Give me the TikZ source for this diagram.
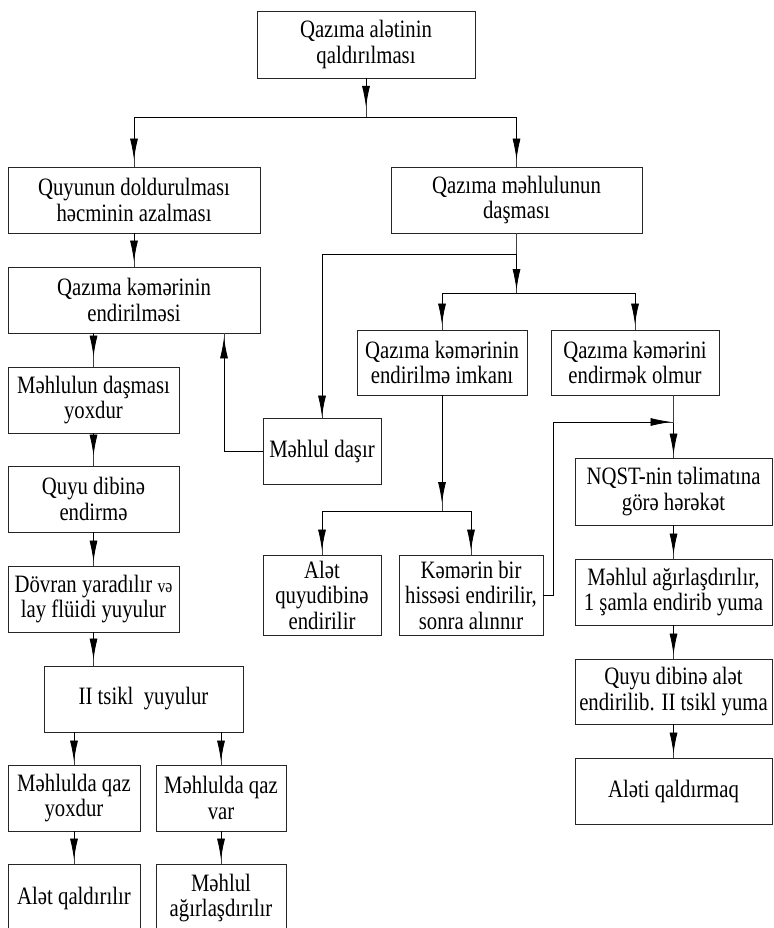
\documentclass[tikz,border=0pt]{standalone}
\usepackage{fontspec}
\setmainfont{Liberation Serif}[FakeStretch=0.83]
\usetikzlibrary{arrows.meta}
\begin{document}
\begin{tikzpicture}[x=1pt,y=-1pt,
  box/.style={draw=black!85, line width=0.9pt, align=center, inner sep=0pt,
    font=\fontsize{25}{25.5}\selectfont, minimum height=66pt},
  link/.style={draw=black!75, line width=0.8pt},
  arr/.style={postaction={draw=black, -{Latex[length=21pt,width=8pt]}, shorten >=#1}},
]
\useasboundingbox (0,0) rectangle (773,928);
\fill[white] (0,0) rectangle (773,928);

% top of the tree
\node[box, minimum width=218pt, minimum height=67pt] (top) at (366,44.5) {Qazıma alətinin\\qaldırılması};
\node[box, minimum width=252pt] (L1) at (134,200) {Quyunun doldurulması\\həcminin azalması};
\node[box, minimum width=251pt] (R1) at (516.5,200) {Qazıma məhlulunun\\daşması};

% left column
\node[box, minimum width=252pt] (L2) at (134,300) {Qazıma kəmərinin\\endirilməsi};
\node[box, minimum width=171pt] (L3) at (93.5,400) {Məhlulun daşması\\yoxdur};
\node[box, minimum width=171pt] (L4) at (93.5,499) {Quyu dibinə\\endirmə};
\node[box, minimum width=171pt] (L5) at (93.5,599) {Dövran yaradılır {\fontsize{19}{20}\selectfont və}\\lay flüidi yuyulur};
\node[box, minimum width=199pt] (L6) at (143.5,699) {II tsikl\ \ yuyulur};
\node[box, minimum width=132pt] (L7a) at (74,798) {Məhlulda qaz\\yoxdur};
\node[box, minimum width=130pt] (L7b) at (221,798) {Məhlulda qaz\\var};
\node[box, minimum width=132pt, minimum height=68pt] (L8a) at (74,898) {Alət qaldırılır};
\node[box, minimum width=130pt, minimum height=68pt] (L8b) at (221,898) {Məhlul\\ağırlaşdırılır};

% middle
\node[box, minimum width=170pt, minimum height=65pt] (imkani) at (442,362.5) {Qazıma kəmərinin\\endirilmə imkanı};
\node[box, minimum width=168pt, minimum height=65pt] (olmur) at (635,362.5) {Qazıma kəmərini\\endirmək olmur};
\node[box, minimum width=118pt] (dasir) at (322,451) {Məhlul daşır};
\node[box, minimum width=118pt, minimum height=80pt] (alet) at (322,595) {Alət\\quyudibinə\\endirilir};
\node[box, minimum width=144pt, minimum height=80pt] (kemer) at (471,595) {Kəmərin bir\\hissəsi endirilir,\\sonra alınnır};

% right column
\node[box, minimum width=197pt, minimum height=67pt] (N1) at (673.5,491.5) {NQST-nin təlimatına\\görə hərəkət};
\node[box, minimum width=197pt] (N2) at (673.5,592) {Məhlul ağırlaşdırılır,\\1 şamla endirib yuma};
\node[box, minimum width=197pt, minimum height=65pt] (N3) at (673.5,691.5) {Quyu dibinə alət\\endirilib. II tsikl yuma};
\node[box, minimum width=197pt] (N4) at (673.5,791) {Aləti qaldırmaq};

% junctions
\coordinate (j1) at (366,117);
\coordinate (j2) at (516.5,254);
\coordinate (j3) at (516.5,293);
\coordinate (j5) at (442,511);
\coordinate (j6) at (673.5,422);

% connectors
\draw[link, arr=10pt] (top.south) -- (j1);
\draw[link, arr=7pt] (j1) -| (L1.north);
\draw[link, arr=7pt] (j1) -| (R1.north);

\draw[link, arr=5pt] (L1.south) -- (L2.north);
\draw[link, arr=10pt] (L3.north |- L2.south) -- (L3.north);
\draw[link, arr=10pt] (L3.south) -- (L4.north);
\draw[link, arr=4pt] (L4.south) -- (L5.north);
\draw[link, arr=6pt] (L5.south) -- (L5.south |- L6.north);
\draw[link, arr=3pt] (L7a.north |- L6.south) -- (L7a.north);
\draw[link, arr=3pt] (L7b.north |- L6.south) -- (L7b.north);
\draw[link, arr=4pt] (L7a.south) -- (L8a.north);
\draw[link, arr=4pt] (L7b.south) -- (L8b.north);

\draw[link] (R1.south) -- (j2);
\draw[link, arr=1pt] (j2) -| (dasir.north);
\draw[link, arr=3pt] (j2) -- (j3);
\draw[link, arr=5pt] (j3) -| (imkani.north);
\draw[link, arr=5pt] (j3) -| (olmur.north);

\draw[link, arr=4pt] (dasir.west) -| ([xshift=90pt]L2.south);

\draw[link, arr=8pt] (imkani.south) -- (j5);
\draw[link, arr=4pt] (j5) -| (alet.north);
\draw[link, arr=4pt] (j5) -| (kemer.north);

\draw[link] (olmur.south -| j6) -- (j6);
\draw[link, arr=3pt] (j6) -- (N1.north);
\draw[link, arr=2pt] (kemer.east) -- ++(10,0) |- (j6);

\draw[link, arr=4pt] (N1.south) -- (N2.north);
\draw[link, arr=4pt] (N2.south) -- (N3.north);
\draw[link, arr=4pt] (N3.south) -- (N4.north);
\end{tikzpicture}
\end{document}
